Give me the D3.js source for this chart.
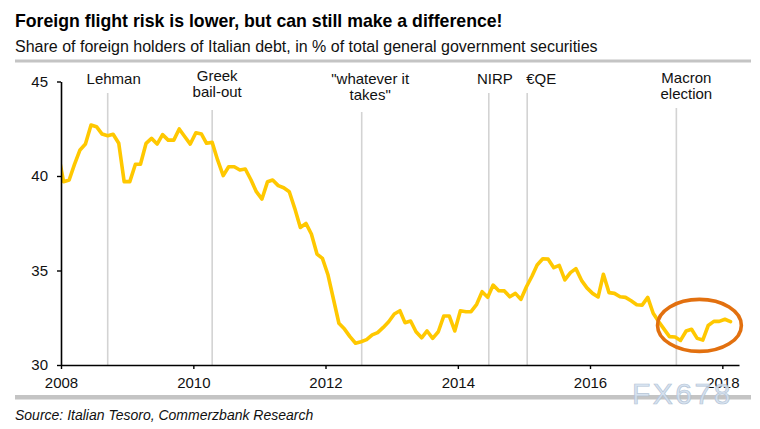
<!DOCTYPE html>
<html><head><meta charset="utf-8">
<script src="https://cdn.jsdelivr.net/npm/d3@7"></script>
<style>
body{margin:0;background:#fff}
svg{display:block;font-family:"Liberation Sans",Arial,Helvetica,sans-serif}
</style>
</head><body>
<svg id="chart" width="760" height="429"></svg>
<script>
// ---------------- DATA ----------------
const titleText = "Foreign flight risk is lower, but can still make a difference!";
const subtitleText = "Share of foreign holders of Italian debt, in % of total general government securities";
const sourceText = "Source: Italian Tesoro, Commerzbank Research";

// monthly observations, first one = December 2007
const firstMonth = "2007-12";
const shareValues = [
  41.3,
  39.70, 39.79, 40.60, 41.38, 41.69, 42.70, 42.61, 42.22, 42.13, 42.21, 41.73, 39.70,
  39.70, 40.62, 40.62, 41.73, 41.99, 41.69, 42.19, 41.90, 41.90, 42.49, 42.08, 41.69,
  42.29, 42.22, 41.73, 41.78, 40.85, 40.02, 40.49, 40.49, 40.32, 40.37, 39.80, 39.17,
  38.78, 39.70, 39.79, 39.49, 39.38, 39.17, 38.29, 37.28, 37.49, 36.93, 35.87, 35.64,
  34.76, 33.44, 32.21, 31.90, 31.50, 31.15, 31.23, 31.34, 31.59, 31.71, 31.99, 32.29,
  32.70, 32.87, 32.24, 32.33, 31.76, 31.44, 31.80, 31.41, 31.76, 32.59, 32.59, 31.80,
  32.87, 32.82, 32.82, 33.21, 33.88, 33.58, 34.23, 33.93, 33.92, 33.61, 33.79, 33.47,
  34.14, 34.71, 35.29, 35.62, 35.60, 35.15, 35.27, 34.50, 34.89, 35.10, 34.48, 34.08,
  33.79, 33.60, 34.80, 33.83, 33.79, 33.61, 33.58, 33.40, 33.19, 33.17, 33.58, 32.74,
  32.29, 31.87, 31.50, 31.48, 31.30, 31.80, 31.89, 31.41, 31.32, 32.09, 32.31, 32.31,
  32.42, 32.29
];

const yTicks = [30, 35, 40, 45];
const yDomain = [30, 45];
const xTickYears = [2008, 2010, 2012, 2014, 2016, 2018];
const xDomain = ["2008-01-01", "2018-04-03"];

const eventKeys = ["lehman", "greek", "whatever", "nirp", "qe", "macron"];
const eventDates = ["2008-09-15", "2010-04-15", "2012-07-19", "2014-06-21", "2015-01-19", "2017-04-22"];
const eventLabels = [["Lehman"], ["Greek", "bail-out"], ["\"whatever it", "takes\""], ["NIRP"], ["€QE"], ["Macron", "election"]];

// highlighted recent period (ellipse annotation), in data units
const highlightDates = ["2017-01-08", "2018-04-16"];
const highlightValues = [30.72, 33.47];

// ---------------- LAYOUT / STYLE ----------------
const W = 760, H = 429;
const plot = {left: 61, right: 739, top: 81.5, bottom: 365};
const labelLayout = {
  lehman:   {dx: 6,  y0: 84, top: 93},
  greek:    {dx: 5,  y0: 80.5, top: 110},
  whatever: {dx: 8.5, y0: 84, top: 112},
  nirp:     {dx: 6,  y0: 84, top: 93},
  qe:       {dx: 14, y0: 84, top: 93},
  macron:   {dx: 10, y0: 83, top: 108}
};
const lineGap = 16.3;
const colors = {line: "#FFC800", event: "#d3d3d3", ellipse: "#E2700F", text: "#111", rule: "#c4c4c4"};

const parseDay = d3.timeParse("%Y-%m-%d");
const parseMonth = d3.timeParse("%Y-%m");
const start = parseMonth(firstMonth);
const series = shareValues.map((v, i) => {
  const d = d3.timeMonth.offset(start, i);
  return {date: new Date(d.getFullYear(), d.getMonth(), 15), value: v};
});

const x = d3.scaleTime().domain(xDomain.map(parseDay)).range([plot.left, plot.right]);
const y = d3.scaleLinear().domain(yDomain).range([plot.bottom, plot.top]);

const svg = d3.select("#chart");
svg.append("rect").attr("width", W).attr("height", H).attr("fill", "#fff");

// title & subtitle
svg.append("text").attr("x", 15).attr("y", 27.3)
  .attr("font-size", 17.7).attr("font-weight", "bold").attr("fill", "#000").text(titleText);
svg.append("text").attr("x", 15).attr("y", 52.3)
  .attr("font-size", 16).attr("fill", colors.text).text(subtitleText);
svg.append("rect").attr("x", 15).attr("y", 59.5).attr("width", 736).attr("height", 3).attr("fill", colors.rule);
svg.append("rect").attr("x", 15).attr("y", 395).attr("width", 736).attr("height", 4.5).attr("fill", colors.rule);
svg.append("text").attr("x", 15).attr("y", 420)
  .attr("font-size", 14).attr("font-style", "italic").attr("fill", colors.text).text(sourceText);

// event lines and labels
const events = eventKeys.map((k, i) => ({key: k, date: parseDay(eventDates[i]), lines: eventLabels[i]}));
const ev = svg.append("g");
events.forEach(e => {
  const L = labelLayout[e.key];
  const ex = x(e.date);
  ev.append("line").attr("x1", ex).attr("x2", ex).attr("y1", L.top).attr("y2", y(yDomain[0]))
    .attr("stroke", colors.event).attr("stroke-width", 1.6);
  e.lines.forEach((t, j) => {
    ev.append("text").attr("x", ex + L.dx).attr("y", L.y0 + j * lineGap)
      .attr("text-anchor", "middle").attr("font-size", 15).attr("fill", colors.text).text(t);
  });
});

// data line
svg.append("clipPath").attr("id", "clip").append("rect")
  .attr("x", plot.left).attr("y", 0).attr("width", W - plot.left).attr("height", H);
svg.append("path").datum(series)
  .attr("clip-path", "url(#clip)")
  .attr("fill", "none").attr("stroke", colors.line).attr("stroke-width", 3.6)
  .attr("stroke-linejoin", "round").attr("stroke-linecap", "round")
  .attr("d", d3.line().x(d => x(d.date)).y(d => y(d.value)));

// axes
const yAxis = svg.append("g").attr("transform", `translate(${plot.left},0)`)
  .call(d3.axisLeft(y).tickValues(yTicks).tickSize(4).tickPadding(9).tickSizeOuter(0).tickFormat(d3.format("d")));
const xAxis = svg.append("g").attr("transform", `translate(0,${plot.bottom})`)
  .call(d3.axisBottom(x).tickValues(xTickYears.map(yr => new Date(yr, 0, 1))).tickSize(4).tickPadding(8)
    .tickSizeOuter(0).tickFormat(d3.timeFormat("%Y")));
[yAxis, xAxis].forEach(g => {
  g.select(".domain").attr("stroke", "#000").attr("stroke-width", 1.6);
  g.selectAll(".tick line").attr("stroke", "#000").attr("stroke-width", 1.4);
  g.selectAll(".tick text").attr("font-size", 15).attr("fill", colors.text)
    .attr("font-family", "'Liberation Sans',Arial,sans-serif");
});

// ellipse annotation
const ex0 = x(parseDay(highlightDates[0])), ex1 = x(parseDay(highlightDates[1]));
const ey0 = y(highlightValues[1]), ey1 = y(highlightValues[0]);
svg.append("ellipse")
  .attr("cx", (ex0 + ex1) / 2).attr("cy", (ey0 + ey1) / 2)
  .attr("rx", (ex1 - ex0) / 2).attr("ry", (ey1 - ey0) / 2)
  .attr("fill", "none").attr("stroke", colors.ellipse).attr("stroke-width", 3.6);

// watermark
svg.append("text").attr("x", 632).attr("y", 404)
  .attr("font-size", 30).attr("letter-spacing", 2.5)
  .attr("fill", "#d3e0ef").attr("stroke", "#aebfd3").attr("stroke-width", 0.7)
  .attr("opacity", 0.9).text("FX678");
</script>
</body></html>
